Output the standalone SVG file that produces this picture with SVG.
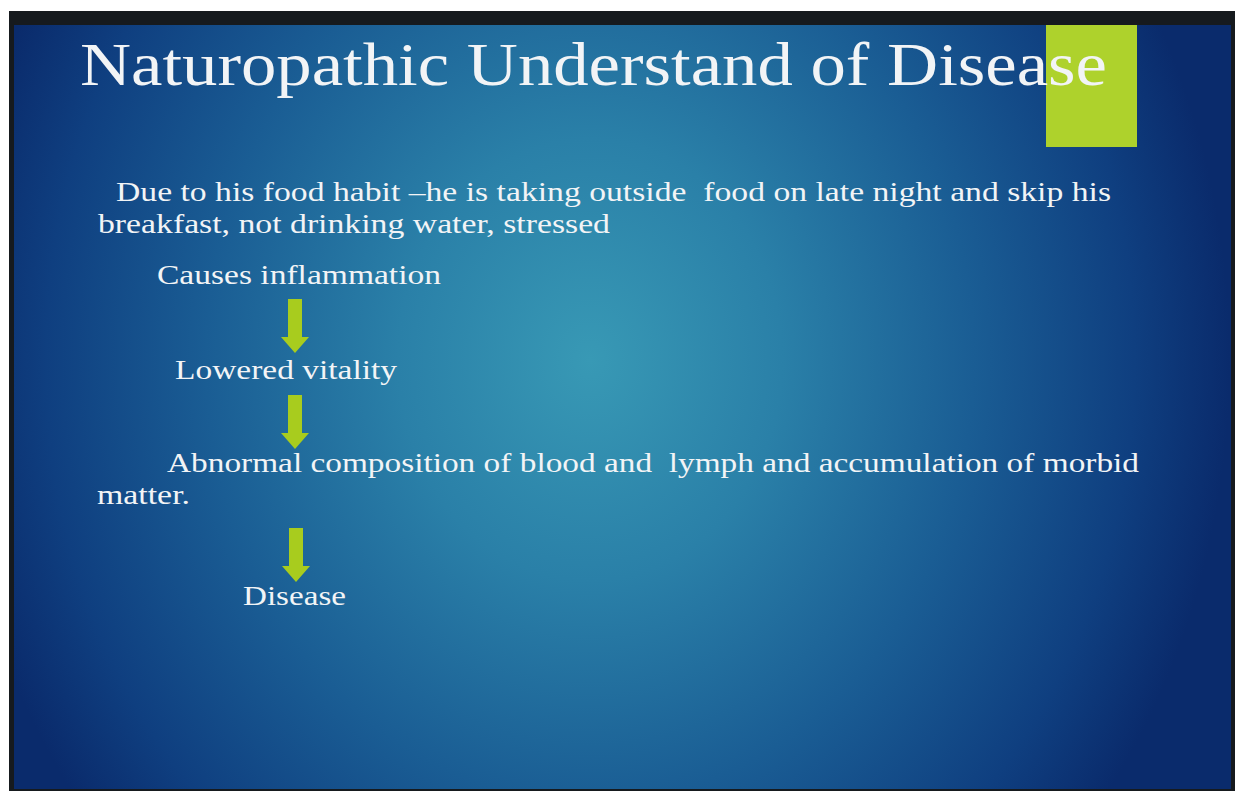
<svg xmlns="http://www.w3.org/2000/svg" width="1235" height="791" viewBox="0 0 1235 791">
  <defs>
    <radialGradient id="bg" cx="590" cy="360" r="640" gradientUnits="userSpaceOnUse" gradientTransform="translate(590 360) scale(1 1.15) translate(-590 -360)">
      <stop offset="0" stop-color="#3899b5"/>
      <stop offset="0.3" stop-color="#2a80a8"/>
      <stop offset="0.6" stop-color="#1a5d94"/>
      <stop offset="0.85" stop-color="#0f3f80"/>
      <stop offset="1" stop-color="#0a2b6c"/>
    </radialGradient>
    <path id="arrow" d="M-7,0 H7 V38 H14 L0,54 L-14,38 H-7 Z"/>
  </defs>
  <style>
    .t { font-family: "Liberation Serif", "Times New Roman", serif; fill: #f2f4f6; white-space: pre; }
    .title { font-size: 62px; }
    .body { font-size: 28px; }
    .arr { fill: #a8cc1e; }
  </style>
  <rect x="0" y="0" width="1235" height="791" fill="#ffffff"/>
  <rect x="9" y="11" width="1226" height="780" fill="#161a1e"/>
  <rect x="14" y="25" width="1217" height="764" fill="url(#bg)"/>
  <g id="accent"><rect x="1046" y="25" width="91" height="122" fill="#aed22c"/></g>
  <g id="title"><text class="t title" x="80" y="85" textLength="1027" lengthAdjust="spacingAndGlyphs">Naturopathic Understand of Disease</text></g>
  <g id="intro">
    <text class="t body" x="116" y="201" textLength="995" lengthAdjust="spacingAndGlyphs">Due to his food habit –he is taking outside  food on late night and skip his</text>
    <text class="t body" x="98" y="233" textLength="512" lengthAdjust="spacingAndGlyphs">breakfast, not drinking water, stressed</text>
  </g>
  <g id="node-causes"><text class="t body" x="157" y="284" textLength="284" lengthAdjust="spacingAndGlyphs">Causes inflammation</text></g>
  <g id="node-lowered"><text class="t body" x="175" y="379" textLength="222" lengthAdjust="spacingAndGlyphs">Lowered vitality</text></g>
  <g id="node-abnormal">
    <text class="t body" x="167" y="472" textLength="972" lengthAdjust="spacingAndGlyphs">Abnormal composition of blood and  lymph and accumulation of morbid</text>
    <text class="t body" x="97" y="504" textLength="93" lengthAdjust="spacingAndGlyphs">matter.</text>
  </g>
  <g id="node-disease"><text class="t body" x="243" y="605" textLength="103" lengthAdjust="spacingAndGlyphs">Disease</text></g>
  <g id="connectors" class="arr">
    <use href="#arrow" x="295" y="299"/>
    <use href="#arrow" x="295" y="395"/>
    <use href="#arrow" x="296" y="528"/>
  </g>
</svg>
